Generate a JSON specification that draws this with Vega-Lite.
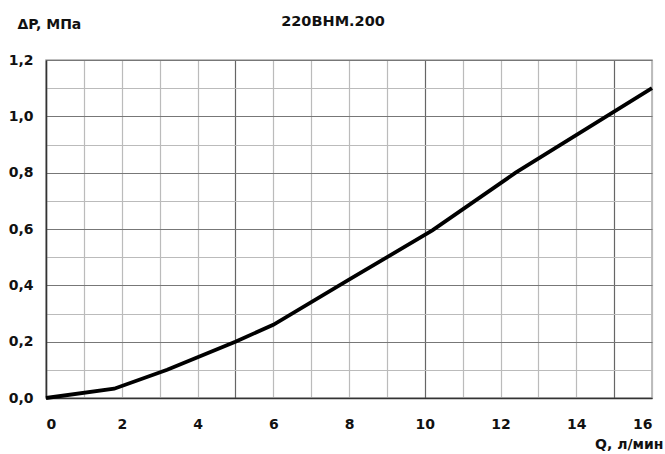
{
  "$schema": "https://vega.github.io/schema/vega-lite/v6.json",
  "width": 606,
  "height": 338,
  "autosize": {"type": "none"},
  "padding": {"left": 46, "top": 60, "right": 13, "bottom": 56},
  "background": "white",
  "title": {"text": "220ВНМ.200", "anchor": "middle", "font": "DejaVu Sans", "fontSize": 14.5, "fontWeight": "bold", "color": "#111", "offset": -23, "baseline": "alphabetic", "dx": -16},
  "config": {
    "view": {"stroke": "#aaa", "strokeWidth": 1.5},
    "axis": {"labelFont": "DejaVu Sans", "labelFontSize": 14, "labelFontWeight": "bold", "labelColor": "#111", "titleFont": "DejaVu Sans", "titleFontSize": 14, "titleFontWeight": "bold", "titleColor": "#111", "ticks": false}
  },
  "data": {"values": [
    {"q": 0, "dp": 0},
    {"q": 1.8, "dp": 0.033},
    {"q": 3.2, "dp": 0.1},
    {"q": 5, "dp": 0.2},
    {"q": 6, "dp": 0.26},
    {"q": 8, "dp": 0.42},
    {"q": 10.2, "dp": 0.595},
    {"q": 12.4, "dp": 0.8},
    {"q": 16, "dp": 1.1}
  ]},
  "mark": {"type": "line", "color": "black", "strokeWidth": 3.8},
  "encoding": {
    "x": {"field": "q", "type": "quantitative", "scale": {"domain": [0, 16], "nice": false},
      "axis": {"values": [0,1,2,3,4,5,6,7,8,9,10,11,12,13,14,15,16], "labelExpr": "datum.value % 2 === 0 ? datum.label : ''", "labelPadding": 19, "domainColor": "#333", "domainWidth": 1.5,
        "gridColor": {"condition": {"test": "datum.value % 5 === 0", "value": "#666"}, "value": "#bbb"}, "gridWidth": 1.2, "gridOpacity": 1,
        "title": "Q, л/мин", "titleAnchor": "end", "titleAlign": "right", "titleX": 617, "titleY": 50, "titleBaseline": "alphabetic"}},
    "y": {"field": "dp", "type": "quantitative", "scale": {"domain": [0, 1.2], "nice": false},
      "axis": {"values": [0,0.1,0.2,0.3,0.4,0.5,0.6,0.7,0.8,0.9,1.0,1.1,1.2], "format": ".1f", "labelExpr": "(round(datum.value*10) % 2 === 0) ? replace(datum.label, '.', ',') : ''", "labelPadding": 13, "domainColor": "#333", "domainWidth": 1.5,
        "gridColor": {"condition": {"test": "round(datum.value*10) % 2 === 0", "value": "#777"}, "value": "#bbb"}, "gridWidth": 1.2, "gridOpacity": 1,
        "title": "ΔP, МПа", "titleAngle": 0, "titleAlign": "left", "titleX": -29, "titleY": -32, "titleBaseline": "alphabetic"}}
  }
}
